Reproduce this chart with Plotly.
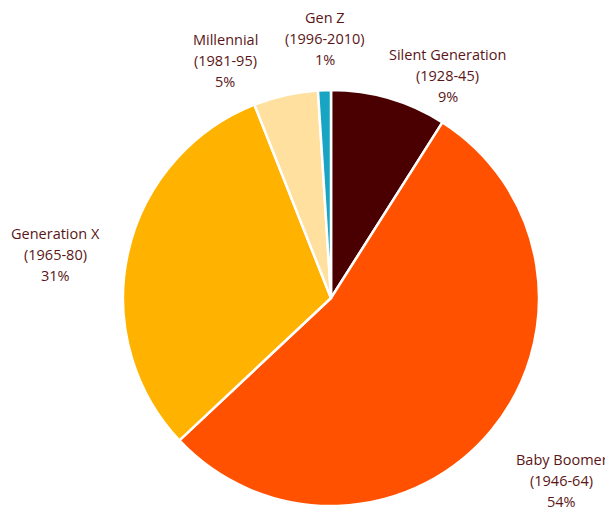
import math
import plotly.graph_objects as go

# Share of respondents by generation
generations = ["Silent Generation", "Baby Boomer", "Generation X", "Millennial", "Gen Z"]
year_ranges = ["(1928-45)", "(1946-64)", "(1965-80)", "(1981-95)", "(1996-2010)"]
shares = [9, 54, 31, 5, 1]

colors = ["#4a0000", "#ff5100", "#ffb200", "#ffe09e", "#17a5c3"]
text_color = "#5a1616"

# label placement: radial distance (in radii) and angular nudge (degrees)
label_dist = [1.21, 1.415, 1.34, 1.25, 1.25]
label_nudge = [11.5, -1.3, -3.7, -11.4, 0.5]

W, H = 605, 513
cx, cy, r = 331, 298, 208

fig = go.Figure(
    go.Pie(
        labels=generations,
        values=shares,
        sort=False,
        direction="clockwise",
        rotation=0,
        marker=dict(colors=colors, line=dict(color="white", width=2.5)),
        textinfo="none",
        hoverinfo="label+percent",
        domain=dict(x=[(cx - r) / W, (cx + r) / W], y=[1 - (cy + r) / H, 1 - (cy - r) / H]),
        showlegend=False,
    )
)

total = sum(shares)
cum = 0
for name, yrs, v, d, nudge in zip(generations, year_ranges, shares, label_dist, label_nudge):
    mid = (cum + v / 2) / total * 360 + nudge
    cum += v
    a = math.radians(mid)
    px = cx + d * r * math.sin(a)
    py = cy - d * r * math.cos(a)
    pct = round(v / total * 100)
    lines = [name, yrs, f"{pct}%"]
    for i, line in enumerate(lines):
        fig.add_annotation(
            x=px / W,
            y=1 - (py + (i - 1) * 21) / H,
            xref="paper",
            yref="paper",
            text=line,
            showarrow=False,
            xanchor="center",
            yanchor="middle",
            font=dict(family="Open Sans", size=14.5, color=text_color),
        )

fig.update_layout(
    width=W,
    height=H,
    margin=dict(l=0, r=0, t=0, b=0),
    paper_bgcolor="white",
    plot_bgcolor="white",
)

fig.write_html("out.html")
